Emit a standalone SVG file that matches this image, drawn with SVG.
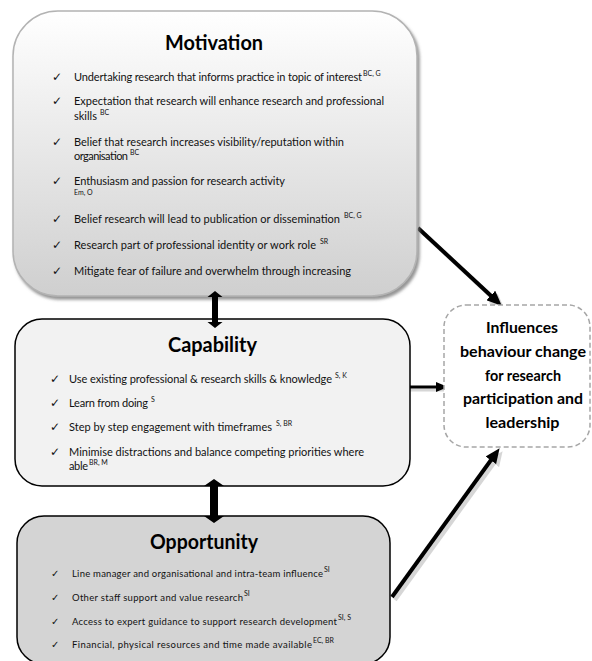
<svg xmlns="http://www.w3.org/2000/svg" width="592" height="661" viewBox="0 0 592 661">
<defs>
<linearGradient id="gMot" x1="0" y1="0" x2="0" y2="1">
<stop offset="0" stop-color="#ffffff"/>
<stop offset="1" stop-color="#cfcfcf"/>
</linearGradient>
<filter id="shadow" x="-5%" y="-5%" width="115%" height="115%">
<feDropShadow dx="2" dy="3" stdDeviation="1.5" flood-color="#7a7a7a" flood-opacity="0.8"/>
</filter>
<marker id="ah" markerUnits="userSpaceOnUse" markerWidth="15" markerHeight="13" refX="1" refY="6.5" orient="auto">
<path d="M0,0 L15,6.5 L0,13 z" fill="#000"/>
</marker>
<marker id="ahg" markerUnits="userSpaceOnUse" markerWidth="15" markerHeight="13" refX="1" refY="6.5" orient="auto">
<path d="M0,0 L15,6.5 L0,13 z" fill="#d6d6d6"/>
</marker>
<marker id="ahs" markerUnits="userSpaceOnUse" markerWidth="12" markerHeight="10" refX="1" refY="5" orient="auto">
<path d="M0,0 L12,5 L0,10 z" fill="#000"/>
</marker>
<marker id="ahsg" markerUnits="userSpaceOnUse" markerWidth="12" markerHeight="10" refX="1" refY="5" orient="auto">
<path d="M0,0 L12,5 L0,10 z" fill="#d6d6d6"/>
</marker>
</defs>
<style>
.title{font-family:Lato,"Liberation Sans",sans-serif;font-weight:bold;font-size:20px;fill:#000;text-anchor:middle}
.b{font-family:Lato,"Liberation Sans",sans-serif;font-size:11px;fill:#111}
.bs{font-family:Lato,"Liberation Sans",sans-serif;font-size:9.5px;fill:#111}
.sup{font-family:Lato,"Liberation Sans",sans-serif;font-size:7px;fill:#111}
.ck{font-family:"DejaVu Sans",sans-serif;font-size:12px;fill:#111}
.cks{font-family:"DejaVu Sans",sans-serif;font-size:10px;fill:#111}
.inf{font-family:Lato,"Liberation Sans",sans-serif;font-weight:bold;font-size:15.5px;fill:#000;text-anchor:middle}
</style>
<rect width="592" height="661" fill="#ffffff"/>

<g id="connectors">
<line x1="421" y1="231" x2="494" y2="299" stroke="#d6d6d6" stroke-width="4" marker-end="url(#ahg)"/>
<line x1="418" y1="228" x2="491.5" y2="296.2" stroke="#000" stroke-width="4" marker-end="url(#ah)"/>
<line x1="392" y1="390" x2="449" y2="390" stroke="#d6d6d6" stroke-width="3" marker-end="url(#ahsg)"/>
<line x1="392" y1="387" x2="437" y2="387" stroke="#000" stroke-width="3" marker-end="url(#ahs)"/>
<line x1="395" y1="600" x2="494.4" y2="462.5" stroke="#d6d6d6" stroke-width="4" marker-end="url(#ahg)"/>
<line x1="392" y1="597" x2="491.4" y2="459.5" stroke="#000" stroke-width="4" marker-end="url(#ah)"/>
</g>

<g id="motivation">
<rect x="13" y="11" width="404" height="285" rx="45" ry="45" fill="url(#gMot)" stroke="#b3b3b3" stroke-width="1.5" filter="url(#shadow)"/>
<text class="title" x="214" y="50" textLength="98" lengthAdjust="spacingAndGlyphs">Motivation</text>
<text class="ck" x="52" y="81">✓</text>
<text class="b" x="74" y="81" textLength="288" lengthAdjust="spacing">Undertaking research that informs practice in topic of interest</text>
<text class="sup" x="363" y="76">BC, G</text>
<text class="ck" x="52" y="105">✓</text>
<text class="b" x="74" y="105" textLength="310" lengthAdjust="spacing">Expectation that research will enhance research and professional</text>
<text class="b" x="74" y="120" textLength="23" lengthAdjust="spacing">skills</text>
<text class="sup" x="100" y="115">BC</text>
<text class="ck" x="52" y="146">✓</text>
<text class="b" x="74" y="146" textLength="270" lengthAdjust="spacing">Belief that research increases visibility/reputation within</text>
<text class="b" x="74" y="160" textLength="54" lengthAdjust="spacing">organisation</text>
<text class="sup" x="130" y="155">BC</text>
<text class="ck" x="52" y="185">✓</text>
<text class="b" x="74" y="185" textLength="211" lengthAdjust="spacing">Enthusiasm and passion for research activity</text>
<text class="sup" x="74" y="195">Em, O</text>
<text class="ck" x="52" y="223">✓</text>
<text class="b" x="74" y="223" textLength="266" lengthAdjust="spacing">Belief research will lead to publication or dissemination</text>
<text class="sup" x="344" y="218">BC, G</text>
<text class="ck" x="52" y="249">✓</text>
<text class="b" x="74" y="249" textLength="242" lengthAdjust="spacing">Research part of professional identity or work role</text>
<text class="sup" x="320" y="244">SR</text>
<text class="ck" x="52" y="275">✓</text>
<text class="b" x="74" y="275" textLength="277" lengthAdjust="spacing">Mitigate fear of failure and overwhelm through increasing</text>
</g>

<g id="capability">
<rect x="15" y="319" width="395" height="167" rx="27" ry="27" fill="#f2f2f2" stroke="#000" stroke-width="1.5"/>
<text class="title" x="212.5" y="352" textLength="89" lengthAdjust="spacingAndGlyphs">Capability</text>
<text class="ck" x="50" y="383">✓</text>
<text class="b" x="69" y="383" textLength="263" lengthAdjust="spacing">Use existing professional &amp; research skills &amp; knowledge</text>
<text class="sup" x="335" y="378">S, K</text>
<text class="ck" x="50" y="407">✓</text>
<text class="b" x="69" y="407" textLength="79" lengthAdjust="spacing">Learn from doing</text>
<text class="sup" x="151" y="402">S</text>
<text class="ck" x="50" y="431">✓</text>
<text class="b" x="69" y="431" textLength="203" lengthAdjust="spacing">Step by step engagement with timeframes</text>
<text class="sup" x="276" y="426">S, BR</text>
<text class="ck" x="50" y="456">✓</text>
<text class="b" x="69" y="456" textLength="295" lengthAdjust="spacing">Minimise distractions and balance competing priorities where</text>
<text class="b" x="69" y="470" textLength="19" lengthAdjust="spacing">able</text>
<text class="sup" x="89" y="465">BR, M</text>
</g>

<g id="opportunity">
<rect x="17" y="516" width="373" height="148" rx="27" ry="27" fill="#d4d4d4" stroke="#000" stroke-width="1.5"/>
<text class="title" x="204" y="549" textLength="108" lengthAdjust="spacingAndGlyphs">Opportunity</text>
<text class="cks" x="51" y="577">✓</text>
<text class="bs" x="72" y="577" textLength="251" lengthAdjust="spacing">Line manager and organisational and intra-team influence</text>
<text class="sup" x="324" y="572">SI</text>
<text class="cks" x="51" y="601">✓</text>
<text class="bs" x="72" y="601" textLength="171" lengthAdjust="spacing">Other staff support and value research</text>
<text class="sup" x="244" y="596">SI</text>
<text class="cks" x="51" y="625">✓</text>
<text class="bs" x="72" y="625" textLength="265" lengthAdjust="spacing">Access to expert guidance to support research development</text>
<text class="sup" x="338" y="620">SI, S</text>
<text class="cks" x="51" y="648">✓</text>
<text class="bs" x="72" y="648" textLength="240" lengthAdjust="spacing">Financial, physical resources and time made available</text>
<text class="sup" x="313" y="643">EC, BR</text>
</g>

<g id="influences">
<rect x="444" y="305" width="146" height="142" rx="22" ry="22" fill="#ffffff" stroke="#a6a6a6" stroke-width="1.5" stroke-dasharray="5 3"/>
<text class="inf" x="522" y="333" textLength="72" lengthAdjust="spacingAndGlyphs">Influences</text>
<text class="inf" x="523" y="357" textLength="126" lengthAdjust="spacingAndGlyphs">behaviour change</text>
<text class="inf" x="523" y="381" textLength="76" lengthAdjust="spacingAndGlyphs">for research</text>
<text class="inf" x="523" y="404" textLength="120" lengthAdjust="spacingAndGlyphs">participation and</text>
<text class="inf" x="522.5" y="428" textLength="74" lengthAdjust="spacingAndGlyphs">leadership</text>
</g>

<g id="connectors-double">
<polygon points="215,291 222.5,297 218,297 218,322 222.5,322 215,328 207.5,322 212,322 212,297 207.5,297" fill="#000"/>
<polygon points="214,479 224,486 218,486 218,516 224,516 214,523 204,516 210,516 210,486 204,486" fill="#000"/>
</g>
</svg>
